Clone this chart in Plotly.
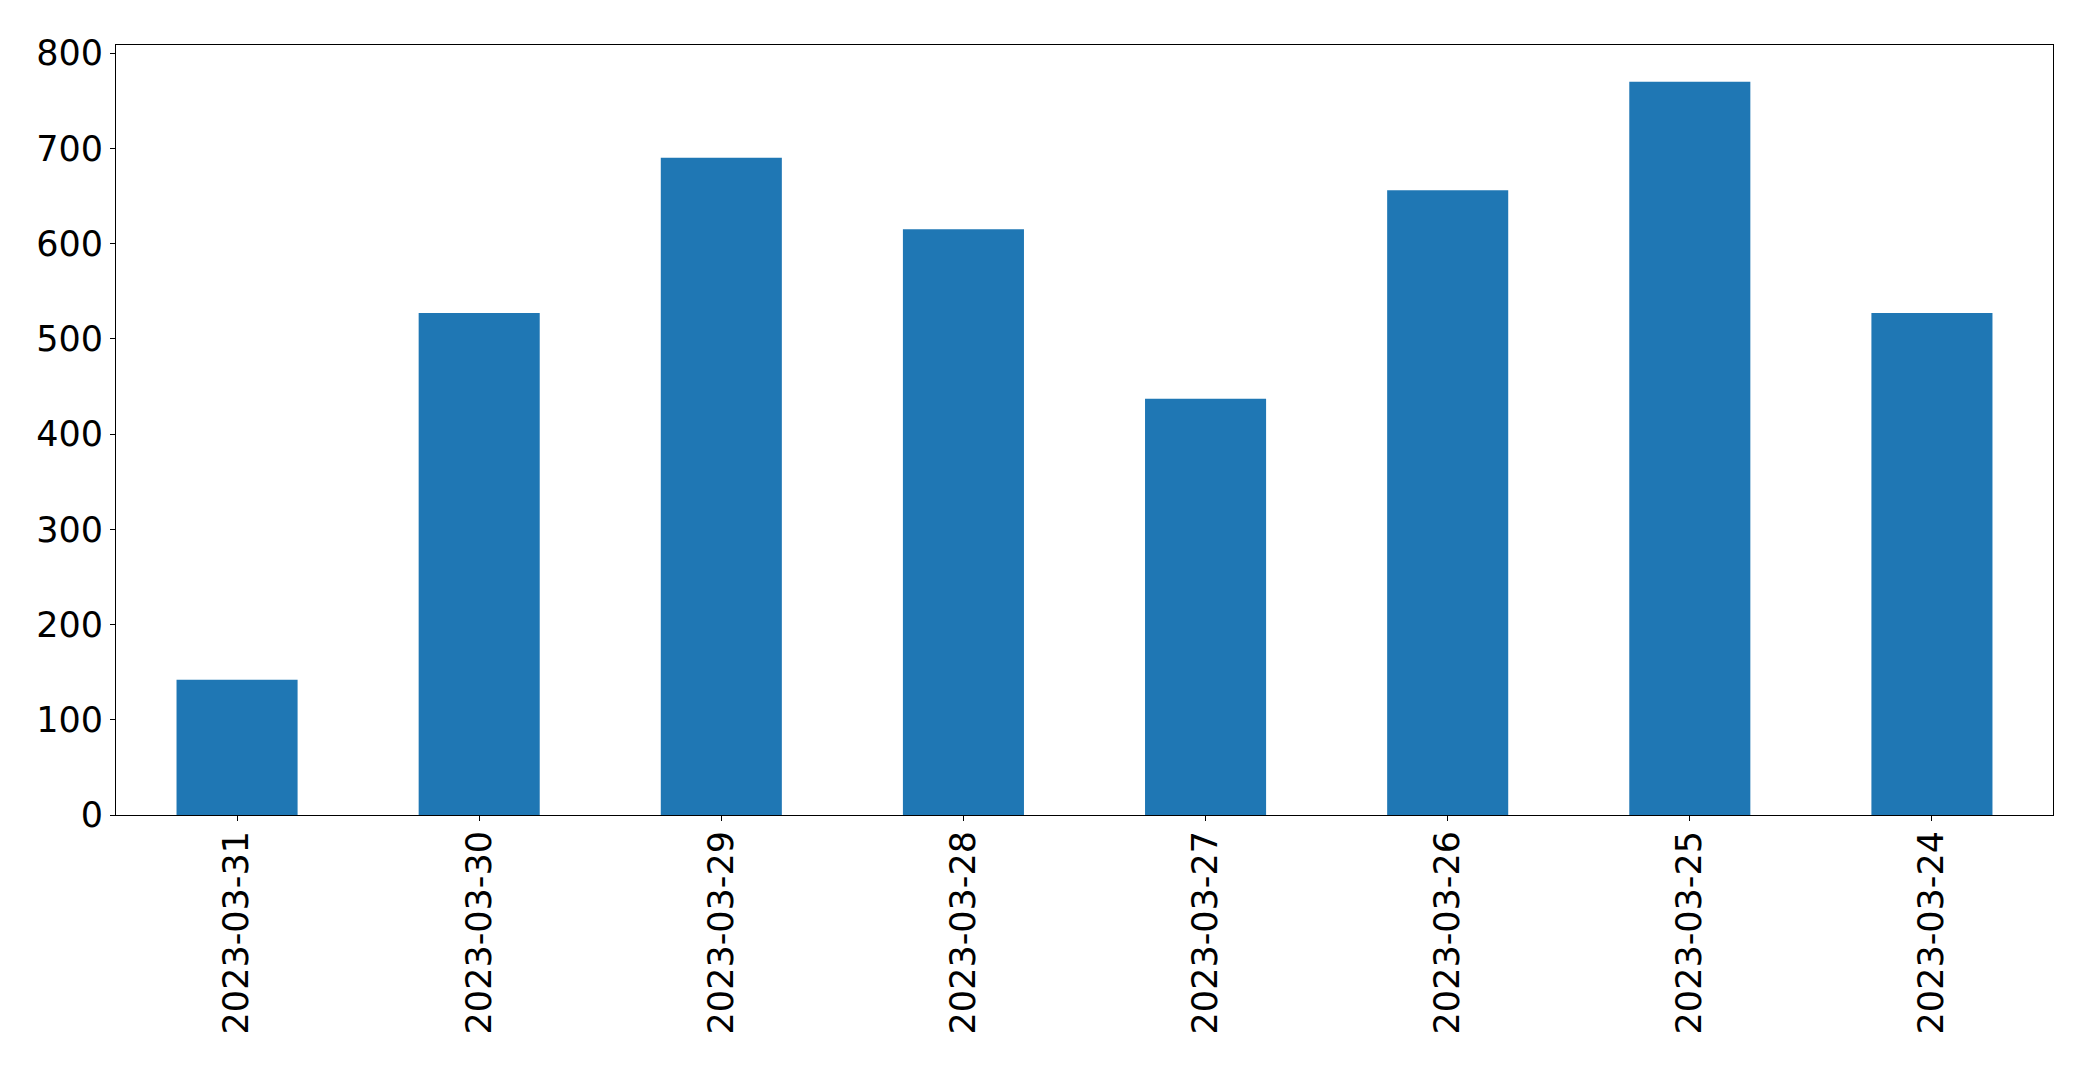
import plotly.graph_objects as go

dates = ["2023-03-31", "2023-03-30", "2023-03-29", "2023-03-28",
         "2023-03-27", "2023-03-26", "2023-03-25", "2023-03-24"]
values = [142, 527, 690, 615, 437, 656, 770, 527]
y_ticks = [0, 100, 200, 300, 400, 500, 600, 700, 800]

fig = go.Figure(go.Bar(x=dates, y=values, marker=dict(color="#1f77b4", line=dict(width=0))))

font = dict(family="DejaVu Sans", size=35, color="black")
fig.update_layout(
    width=2093, height=1067,
    margin=dict(l=108, r=48, t=37, b=260),
    paper_bgcolor="white", plot_bgcolor="white",
    bargap=0.5, showlegend=False, font=font,
)
fig.update_xaxes(type="category", range=[-0.5, len(dates) - 0.5], tickangle=-90,
                 showline=True, linecolor="black", linewidth=1, mirror=True,
                 ticks="outside", ticklen=5, tickcolor="black", showgrid=False,
                 tickfont=font, ticklabelstandoff=-4)
fig.update_yaxes(range=[0, max(values) * 1.05], tickvals=y_ticks,
                 showline=True, linecolor="black", linewidth=1, mirror=True,
                 ticks="outside", ticklen=5, tickcolor="black", showgrid=False,
                 zeroline=False, tickfont=font)

fig.write_html("out.html")
